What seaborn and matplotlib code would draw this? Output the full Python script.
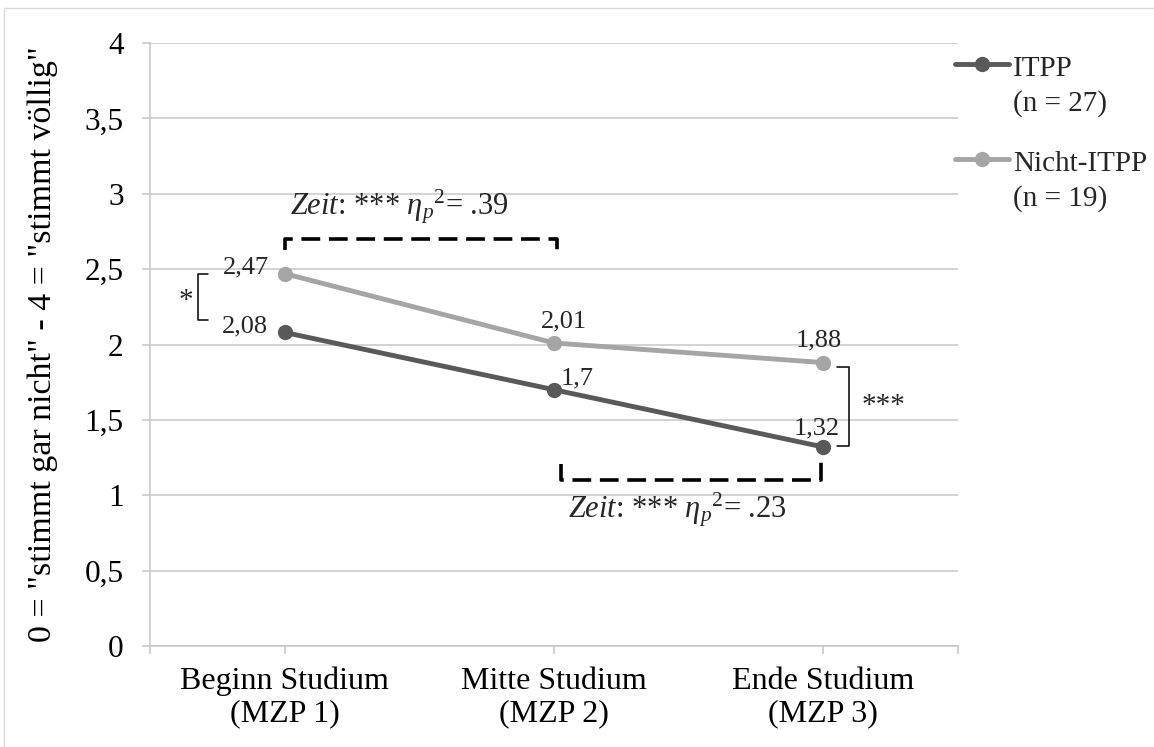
import numpy as np
import pandas as pd
import matplotlib
matplotlib.use("Agg")
import matplotlib.pyplot as plt
import matplotlib.transforms as mtransforms
from matplotlib.legend_handler import HandlerLine2D
from matplotlib.patches import Rectangle
import seaborn as sns

# data
zeitpunkte = ["Beginn Studium\n(MZP 1)", "Mitte Studium\n(MZP 2)", "Ende Studium\n(MZP 3)"]
itpp = [2.08, 1.70, 1.32]
nicht_itpp = [2.47, 2.01, 1.88]
gruppen = ["ITPP", "Nicht-ITPP"]
legend_labels = ["ITPP\n(n = 27)", "Nicht-ITPP\n(n = 19)"]
y_ticks = [0, 0.5, 1, 1.5, 2, 2.5, 3, 3.5, 4]
ylabel = '0 = "stimmt gar nicht" - 4 = "stimmt völlig"'

farben = {"ITPP": "#595959", "Nicht-ITPP": "#A5A5A5"}

df = pd.DataFrame({
    "zeitpunkt": zeitpunkte * 2,
    "wert": itpp + nicht_itpp,
    "gruppe": [gruppen[0]] * 3 + [gruppen[1]] * 3,
})

sns.set_theme(style="white")
plt.rcParams["font.family"] = ["Liberation Serif", "DejaVu Serif"]
plt.rcParams["mathtext.fontset"] = "custom"
plt.rcParams["mathtext.rm"] = "Liberation Serif"
plt.rcParams["mathtext.it"] = "Liberation Serif:italic"
plt.rcParams["mathtext.bf"] = "Liberation Serif:bold"

fig = plt.figure(figsize=(11.54, 7.47), dpi=100)
ax = fig.add_axes([150 / 1154, 101 / 747, 808 / 1154, 603 / 747])

sns.lineplot(data=df, x="zeitpunkt", y="wert", hue="gruppe", palette=farben,
             marker="o", markersize=11, markeredgewidth=0, linewidth=3.5,
             sort=False, legend=False, ax=ax)

grid_col = "#C6C6C6"
ax.set_xlim(-0.5, 2.5)
ax.set_ylim(0, 4)
ax.set_yticks(y_ticks)
ax.set_yticklabels([f"{v:g}".replace(".", ",") for v in y_ticks], fontsize=22.5)
ax.set_xticks(range(len(zeitpunkte)))
ax.set_xticklabels(zeitpunkte, fontsize=23, linespacing=1.15)
ax.set_xticks([-0.5, 2.5], minor=True)
ax.tick_params(axis="y", which="both", direction="out", length=6, width=1.1,
               color=grid_col, pad=13, left=True, labelcolor="black")
ax.tick_params(axis="x", which="both", direction="out", length=6, width=1.1,
               color=grid_col, pad=9, bottom=True, labelcolor="black")
ax.grid(axis="y", color=grid_col, linewidth=1.1)
ax.set_axisbelow(True)
for s in ["top", "right"]:
    ax.spines[s].set_visible(False)
for s in ["left", "bottom"]:
    ax.spines[s].set_color(grid_col)
    ax.spines[s].set_linewidth(1.1)
ax.set_xlabel("")
ax.set_ylabel(ylabel, fontsize=24.5, color="black")
ax.yaxis.set_label_coords(-0.114, 0.5)

# value labels
offsets_a = [(-12, 0, "right"), (5, 4, "left"), (-5, 9, "center")]
offsets_b = [(-11, 0, "right"), (7, 11, "center"), (-3, 11.5, "center")]
for i, v in enumerate(itpp):
    dx, dy, ha = offsets_a[i]
    ax.annotate(f"{v:g}".replace(".", ","), (i, v), xytext=(dx, dy),
                textcoords="offset points", ha=ha, va="baseline", fontsize=19)
for i, v in enumerate(nicht_itpp):
    dx, dy, ha = offsets_b[i]
    ax.annotate(f"{v:g}".replace(".", ","), (i, v), xytext=(dx, dy),
                textcoords="offset points", ha=ha, va="baseline", fontsize=19)

# effect of time: dashed brackets
dash = dict(color="black", linewidth=2.6, linestyle=(0, (5.2, 2.4)), solid_capstyle="butt")
ax.plot([0, 0, 1.01, 1.01], [2.63, 2.70, 2.70, 2.63], **dash)
ax.plot([1.026, 1.026, 1.99, 1.99], [1.21, 1.10, 1.10, 1.22], **dash)
ax.text(0.02, 2.86, r"$\mathit{Zeit}$: *** $\eta_{p}{}^{\mathit{2}}$= .39",
        fontsize=22, ha="left", va="baseline")
ax.text(1.052, 0.85, r"$\mathit{Zeit}$: *** $\eta_{p}{}^{\mathit{2}}$= .23",
        fontsize=22, ha="left", va="baseline")

# group differences: small brackets
ax.plot([-0.286, -0.323, -0.323, -0.286], [nicht_itpp[0], nicht_itpp[0], 2.163, 2.163],
        color="black", linewidth=1.1)
ax.text(-0.368, 2.29, "*", fontsize=21, ha="center", va="center")
ax.plot([2.052, 2.097, 2.097, 2.052], [1.851, 1.851, 1.327, 1.327],
        color="black", linewidth=1.1)
ax.text(2.141, 1.59, "***", fontsize=21, ha="left", va="center")


# legend: handle next to the first line of each two-line label
class TopLineHandler(HandlerLine2D):
    def __init__(self, shift, **kw):
        super().__init__(**kw)
        self.shift = shift

    def create_artists(self, legend, orig_handle, xdescent, ydescent, width, height, fontsize, trans):
        arts = super().create_artists(legend, orig_handle, xdescent, ydescent, width,
                                      height, fontsize, trans)
        t = mtransforms.Affine2D().translate(0, self.shift) + trans
        for a in arts:
            a.set_transform(t)
        return arts


leg_fs = 21
leg_ls = 1.4
handles = ax.get_lines()[:2]
leg = ax.legend(handles, legend_labels, loc="upper left",
                bbox_to_anchor=(955 / 1154, 1 - 56 / 747), bbox_transform=fig.transFigure,
                frameon=False, fontsize=leg_fs, borderpad=0, borderaxespad=0,
                handlelength=1.85, handletextpad=0.15, labelspacing=1.15,
                handler_map={h: TopLineHandler(16) for h in handles})
for t in leg.get_texts():
    t.set_linespacing(leg_ls)

fig.patches.append(Rectangle((4 / 1154, -0.05), 1.2, 1 - 8 / 747 + 0.05, transform=fig.transFigure,
                             fill=False, edgecolor="#D9D9D9", linewidth=1))

fig.savefig("out.png", dpi=100, facecolor="white")
